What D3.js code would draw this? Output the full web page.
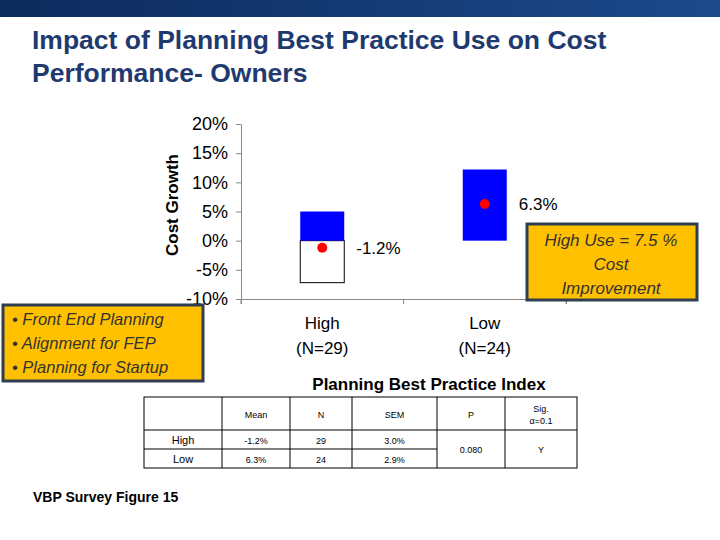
<!DOCTYPE html><html><head><script src="https://cdn.jsdelivr.net/npm/d3@7"></script>
<style>body{margin:0;background:#fff}svg{font-family:Arial,"Liberation Sans",sans-serif}</style></head><body>
<svg id="c" width="720" height="540"></svg>
<script>
const categories=["High","Low"];
const catLabels=["(N=29)","(N=24)"];
const means=[-1.2,6.3];
const boxLow=[-7.2,0];
const boxHigh=[5,12.2];
const yTicks=[20,15,10,5,0,-5,-10];
const tableHead=["","Mean","N","SEM","P","Sig.\nα=0.1"];
const tableRows=[["High","-1.2%","29","3.0%"],["Low","6.3%","24","2.9%"]];
const pValue="0.080", sigValue="Y";

const svg=d3.select("#c");
const defs=svg.append("defs");
const g0=defs.append("linearGradient").attr("id","hg");
g0.append("stop").attr("offset","0").attr("stop-color","#0d2a5c");
g0.append("stop").attr("offset","1").attr("stop-color","#1c4a8c");
svg.append("rect").attr("width",720).attr("height",17).attr("fill","url(#hg)");
svg.append("text").attr("x",32).attr("y",49).attr("font-size",26.5).attr("font-weight","bold").attr("fill","#1f3a6e").text("Impact of Planning Best Practice Use on Cost");
svg.append("text").attr("x",32).attr("y",82).attr("font-size",26.5).attr("font-weight","bold").attr("fill","#1f3a6e").text("Performance- Owners");

const y=d3.scaleLinear().domain([-10,20]).range([299,124]);
const x=d3.scaleBand().domain(categories).range([241,566]);
const bw=44;
svg.append("g").attr("transform","translate(241,0)").call(d3.axisLeft(y).tickValues(yTicks).tickFormat(d=>d+"%").tickSize(5).tickSizeOuter(0))
 .call(a=>{a.select(".domain").attr("stroke","#888");a.selectAll("line").attr("stroke","#888");a.selectAll("text").attr("font-size",18).attr("font-family","Arial").attr("fill","#000").attr("dx",-5);});
svg.append("g").attr("transform","translate(0,299)").call(d3.axisBottom(x).tickSize(5).tickFormat(""))
 .call(a=>{a.select(".domain").attr("stroke","#888");a.selectAll("line").attr("stroke","#888").attr("transform",`translate(${-x.bandwidth()/2},0)`);});
svg.append("line").attr("x1",566).attr("x2",566).attr("y1",299).attr("y2",304).attr("stroke","#888");
categories.forEach((c,i)=>{
  const cx=x(c)+x.bandwidth()/2;
  if(boxLow[i]<0) svg.append("rect").attr("x",cx-bw/2).attr("width",bw).attr("y",y(0)).attr("height",y(boxLow[i])-y(0)).attr("fill","#fff").attr("stroke","#000");
  svg.append("rect").attr("x",cx-bw/2).attr("width",bw).attr("y",y(boxHigh[i])).attr("height",y(Math.max(0,boxLow[i]))-y(boxHigh[i])).attr("fill","#0000ff");
  svg.append("circle").attr("cx",cx).attr("cy",y(means[i])).attr("r",5).attr("fill","#ff0000");
  svg.append("text").attr("x",cx+34).attr("y",y(means[i])+6).attr("font-size",17).text(means[i]+"%");
  svg.append("text").attr("x",cx).attr("y",329).attr("text-anchor","middle").attr("font-size",17).text(c);
  svg.append("text").attr("x",cx).attr("y",354).attr("text-anchor","middle").attr("font-size",17).text(catLabels[i]);
});
svg.append("text").attr("transform","translate(178,205) rotate(-90)").attr("text-anchor","middle").attr("font-size",17).attr("font-weight","bold").text("Cost Growth");
svg.append("text").attr("x",429).attr("y",390).attr("text-anchor","middle").attr("font-size",17).attr("font-weight","bold").text("Planning Best Practice Index");

// callouts
svg.append("rect").attr("x",527).attr("y",224).attr("width",170).attr("height",76).attr("fill","#ffc000").attr("stroke","#2f3f50").attr("stroke-width",3);
["High Use = 7.5 %","Cost","Improvement"].forEach((t,i)=>svg.append("text").attr("x",611).attr("y",246+i*24).attr("text-anchor","middle").attr("font-size",17).attr("font-style","italic").attr("fill","#333").text(t));
svg.append("rect").attr("x",3).attr("y",305).attr("width",200).attr("height",76).attr("fill","#ffc000").attr("stroke","#2f3f50").attr("stroke-width",3);
["• Front End Planning","• Alignment for FEP","• Planning for Startup"].forEach((t,i)=>svg.append("text").attr("x",12).attr("y",325+i*24).attr("font-size",16.5).attr("font-style","italic").attr("fill","#333").text(t));

// table
const cols=[144,222,290,352,437,505,577];
const rows=[397,430,449,468];
const tg=svg.append("g").attr("stroke","#000").attr("stroke-width",1);
tg.append("rect").attr("x",cols[0]).attr("y",rows[0]).attr("width",cols[6]-cols[0]).attr("height",rows[3]-rows[0]).attr("fill","none");
cols.slice(1,6).forEach(c=>tg.append("line").attr("x1",c).attr("x2",c).attr("y1",rows[0]).attr("y2",rows[3]));
tg.append("line").attr("x1",cols[0]).attr("x2",cols[6]).attr("y1",rows[1]).attr("y2",rows[1]);
tg.append("line").attr("x1",cols[0]).attr("x2",cols[4]).attr("y1",rows[2]).attr("y2",rows[2]);
const mid=i=>(cols[i]+cols[i+1])/2;
tableHead.forEach((h,i)=>{const ls=h.split("\n");ls.forEach((l,j)=>svg.append("text").attr("x",mid(i)).attr("y",(rows[0]+rows[1])/2+4+(j-(ls.length-1)/2)*12).attr("text-anchor","middle").attr("font-size",9).text(l));});
tableRows.forEach((r,ri)=>r.forEach((v,i)=>svg.append("text").attr("x",mid(i)).attr("y",(rows[ri+1]+rows[ri+2])/2+4).attr("text-anchor","middle").attr("font-size",i==0?11:9).text(v)));
svg.append("text").attr("x",mid(4)).attr("y",(rows[1]+rows[3])/2+4).attr("text-anchor","middle").attr("font-size",9).text(pValue);
svg.append("text").attr("x",mid(5)).attr("y",(rows[1]+rows[3])/2+4).attr("text-anchor","middle").attr("font-size",9).text(sigValue);
svg.append("text").attr("x",33).attr("y",502).attr("font-size",14).attr("font-weight","bold").text("VBP Survey Figure 15");
</script></body></html>
